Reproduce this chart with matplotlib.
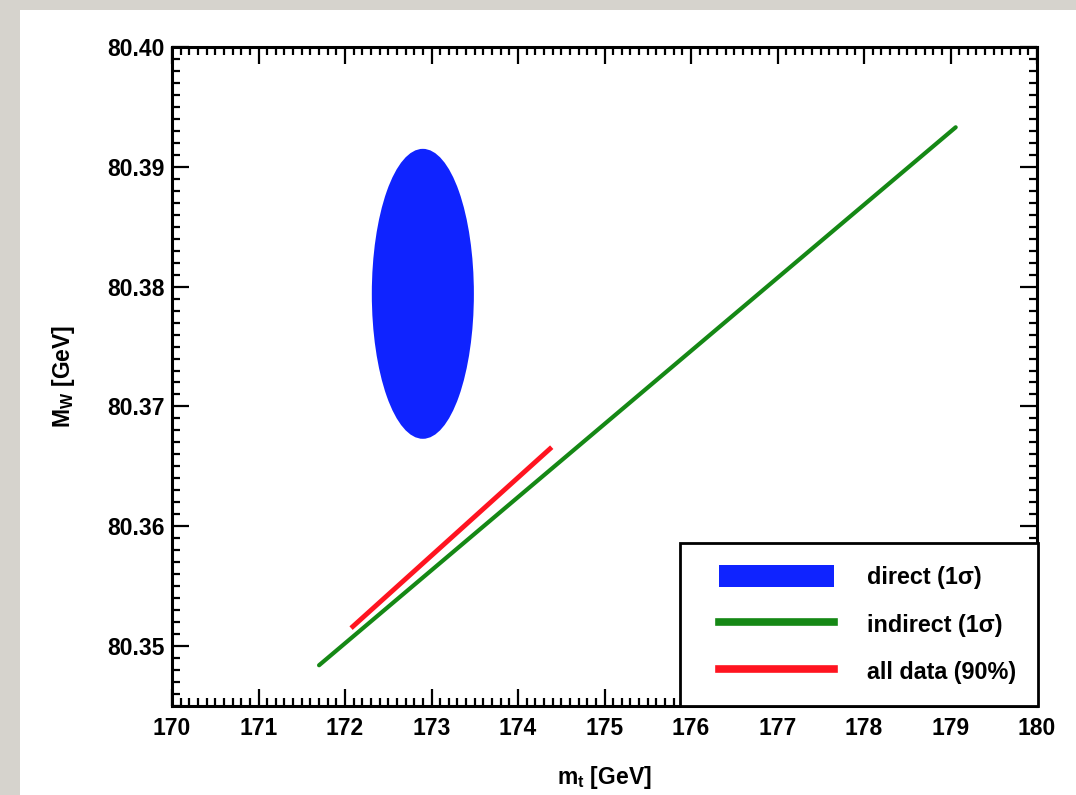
import matplotlib
matplotlib.use("Agg")
import matplotlib.pyplot as plt
from matplotlib.patches import Ellipse, Patch, Rectangle
from matplotlib.lines import Line2D
from matplotlib.legend_handler import HandlerLine2D, HandlerPatch
from matplotlib.ticker import MultipleLocator, FormatStrFormatter

plt.rcParams['font.family'] = ['Liberation Sans', 'DejaVu Sans']
plt.rcParams['font.weight'] = 'bold'
plt.rcParams['axes.labelweight'] = 'bold'
plt.rcParams['mathtext.fontset'] = 'custom'
plt.rcParams['mathtext.rm'] = 'Liberation Sans:bold'
plt.rcParams['mathtext.it'] = 'Liberation Sans:bold'
plt.rcParams['mathtext.bf'] = 'Liberation Sans:bold'
plt.rcParams['mathtext.default'] = 'rm'

# direct measurement (1 sigma ellipse)
direct_mt = 172.9
direct_mw = 80.3794
direct_dmt = 0.59
direct_dmw = 0.0121

# indirect band (1 sigma)
indirect_mt = [171.70, 179.06]
indirect_mw = [80.3484, 80.3933]

# all data (90%)
all_mt = [172.07, 174.39]
all_mw = [80.3515, 80.3666]

labels = ['direct (1σ)', 'indirect (1σ)', 'all data (90%)']

c_blue = '#0f23ff'
c_green = '#158815'
c_red = '#ff1420'

fig = plt.figure(figsize=(10.76, 7.95), dpi=100, facecolor='#d6d3cd')
fig.patches.append(Rectangle((20/1076, 0), 1, 785/795, transform=fig.transFigure,
                             facecolor='white', edgecolor='none', zorder=-10))
ax = fig.add_axes([172/1076, 1 - 706/795, 865/1076, 659/795])

ax.add_patch(Ellipse((direct_mt, direct_mw), 2*direct_dmt, 2*direct_dmw,
                     facecolor=c_blue, edgecolor='none'))
ax.plot(indirect_mt, indirect_mw, color=c_green, lw=3, solid_capstyle='round')
ax.plot(all_mt, all_mw, color=c_red, lw=3.5, solid_capstyle='butt')

ax.set_xlim(170, 180)
ax.set_ylim(80.345, 80.40)
ax.xaxis.set_major_locator(MultipleLocator(1))
ax.xaxis.set_minor_locator(MultipleLocator(0.1))
ax.yaxis.set_major_locator(MultipleLocator(0.01))
ax.yaxis.set_minor_locator(MultipleLocator(0.001))
ax.yaxis.set_major_formatter(FormatStrFormatter('%.2f'))
ax.tick_params(which='both', direction='in', top=True, right=True, width=1.6, labelsize=16.5)
ax.tick_params(which='major', length=12)
ax.tick_params(which='minor', length=6)
ax.tick_params(axis='x', pad=8)
ax.tick_params(axis='y', pad=5)
for s in ax.spines.values():
    s.set_linewidth(2.2)

ax.set_xlabel('m$_{t}$ [GeV]', fontsize=16.5, labelpad=17)
ax.set_ylabel('M$_{W}$ [GeV]', fontsize=16.5, labelpad=22)

handles = [Patch(facecolor=c_blue, edgecolor='none'),
           Line2D([], [], color=c_green, lw=5.5),
           Line2D([], [], color=c_red, lw=5.5)]
hmap = {Patch: HandlerPatch(xpad=0.7), Line2D: HandlerLine2D(xpad=0.7)}
leg = ax.legend(handles, labels, loc='lower left', bbox_to_anchor=(508/865, 0, 358/865, 166/659),
                mode='expand', borderaxespad=0, fontsize=16.8, handlelength=5.64, handleheight=1.07,
                handletextpad=1.42, labelspacing=1.0, borderpad=0.95, fancybox=False,
                framealpha=1, edgecolor='black', handler_map=hmap)
leg.get_frame().set_linewidth(2)
leg.set_zorder(5)

fig.savefig('out.png', dpi=100, facecolor=fig.get_facecolor())
